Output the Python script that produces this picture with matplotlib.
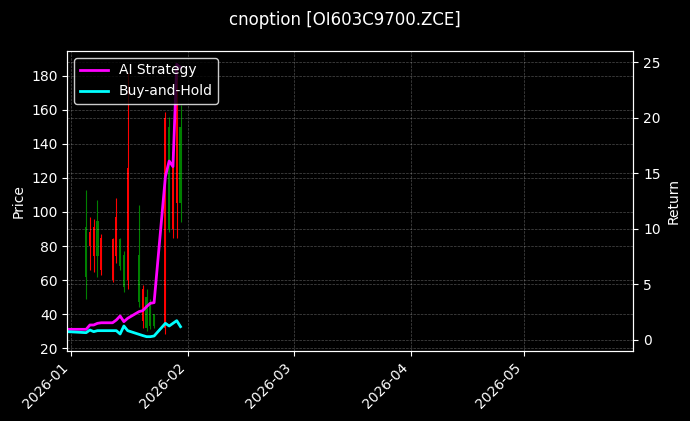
import matplotlib
matplotlib.use("Agg")
import matplotlib.pyplot as plt
import matplotlib.dates as mdates
import pandas as pd
import numpy as np

# candle data (trading days)
candle_dates = ["2026-01-05", "2026-01-06", "2026-01-07", "2026-01-08", "2026-01-09",
                "2026-01-12", "2026-01-13", "2026-01-14", "2026-01-15", "2026-01-16",
                "2026-01-19", "2026-01-20", "2026-01-21", "2026-01-22", "2026-01-23",
                "2026-01-26", "2026-01-27", "2026-01-28", "2026-01-29", "2026-01-30"]
opens = [62, 88, 91, 74, 85, 84, 97, 68, 56, 126, 47, 55, 32, 33, 33, 155, 90, 135, 170, 105]
highs = [113, 97, 96, 107, 87, 85, 108, 85, 77, 182, 104, 57, 55, 49, 40, 159, 156, 139, 185, 163]
lows = [49, 66, 65, 62, 63, 59, 70, 66, 53, 55, 44, 32, 30, 31, 32, 28, 88, 85, 85, 94]
closes = [91, 80, 74, 95, 66, 60, 74, 84, 75, 60, 75, 36, 50, 47, 40, 32, 150, 90, 105, 150]

# return curves (one point before first candle)
ret_dates = ["2025-12-31"] + candle_dates
ai_strategy = [0.96, 0.96, 1.35, 1.35, 1.5, 1.55, 1.55, 1.8, 2.16, 1.65, 1.95,
               2.55, 2.64, 3.0, 3.3, 3.36, 14.7, 16.1, 15.6, 24.8, 24.5]
buy_hold = [0.75, 0.66, 0.9, 0.75, 0.84, 0.84, 0.84, 0.84, 0.54, 1.26, 0.84,
            0.51, 0.4, 0.3, 0.3, 0.36, 1.5, 1.26, 1.5, 1.74, 1.2]

df = pd.DataFrame({"open": opens, "high": highs, "low": lows, "close": closes},
                  index=pd.to_datetime(candle_dates))
rets = pd.DataFrame({"ai": ai_strategy, "bh": buy_hold}, index=pd.to_datetime(ret_dates))

plt.style.use("dark_background")
fig = plt.figure(figsize=(6.9, 4.21), dpi=100)
ax = fig.add_axes([0.0975, 0.166, 0.8205, 0.713])

up = df["close"] >= df["open"]
colors = np.where(up, "green", "red")
x = mdates.date2num(df.index.to_pydatetime())
ax.vlines(x, df["low"], df["high"], colors=colors, linewidth=0.8)
body_bottom = np.minimum(df["open"], df["close"])
body_height = np.abs(df["close"] - df["open"])
ax.bar(x, body_height, bottom=body_bottom, width=0.55, color=colors, linewidth=0)

ax.set_ylabel("Price")
ax.set_ylim(18.2, 194.7)
ax.grid(True, linestyle="--", linewidth=0.5, alpha=0.3)

ax2 = ax.twinx()
xr = mdates.date2num(rets.index.to_pydatetime())
ax2.plot(xr, rets["ai"], color="magenta", linewidth=2, label="AI Strategy")
ax2.plot(xr, rets["bh"], color="cyan", linewidth=2, label="Buy-and-Hold")
ax2.set_ylabel("Return")
ax2.set_ylim(-1.0, 26.0)
ax2.grid(True, linestyle="--", linewidth=0.5, alpha=0.3)
ax2.legend(loc="upper left", facecolor="black", edgecolor="white")

ax.set_xlim(mdates.datestr2num("2025-12-31"), mdates.datestr2num("2026-05-30"))
ax.xaxis.set_major_locator(mdates.MonthLocator())
ax.xaxis.set_major_formatter(mdates.DateFormatter("%Y-%m"))
plt.setp(ax.get_xticklabels(), rotation=45, ha="right")

fig.suptitle("cnoption [OI603C9700.ZCE]", y=0.975)
fig.savefig("out.png", dpi=100)
